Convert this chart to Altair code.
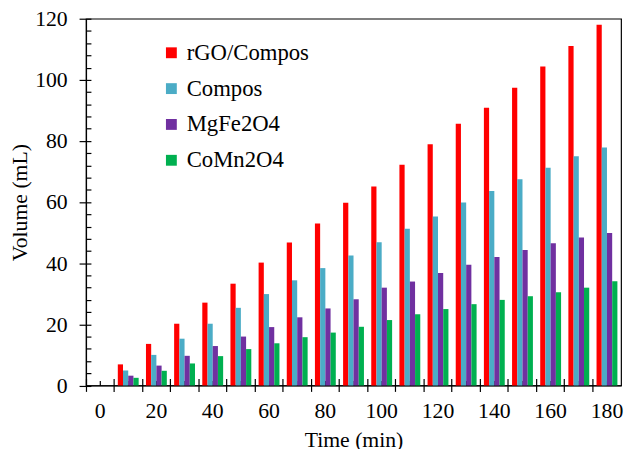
import altair as alt
import pandas as pd

times = [0, 10, 20, 30, 40, 50, 60, 70, 80, 90, 100, 110, 120, 130, 140, 150, 160, 170, 180]
series_names = ["rGO/Compos", "Compos", "MgFe2O4", "CoMn2O4"]
rgo = [0, 6.9, 13.6, 20.2, 27.1, 33.3, 40.2, 46.8, 53.0, 59.8, 65.1, 72.2, 78.9, 85.6, 90.9, 97.4, 104.4, 111.1, 118.0]
compos = [0, 4.9, 10.0, 15.3, 20.2, 25.4, 29.9, 34.4, 38.4, 42.5, 46.9, 51.3, 55.3, 59.9, 63.6, 67.5, 71.2, 75.0, 77.9]
mgfe = [0, 3.2, 6.5, 9.7, 12.9, 16.0, 19.1, 22.3, 25.2, 28.2, 32.0, 34.0, 36.8, 39.5, 42.0, 44.3, 46.5, 48.4, 49.9]
comn = [0, 2.5, 4.8, 7.2, 9.6, 11.9, 13.8, 15.8, 17.3, 19.2, 21.4, 23.3, 25.0, 26.6, 28.0, 29.2, 30.5, 32.0, 34.1]
colors = ["#FF0000", "#4BACC6", "#7030A0", "#00B050"]
y_ticks = [0, 20, 40, 60, 80, 100, 120]
y_minor = list(range(0, 121, 4))

rows = []
for name, vals in zip(series_names, [rgo, compos, mgfe, comn]):
    for t, v in zip(times, vals):
        rows.append({"Time": t, "Series": name, "Volume": v})
df = pd.DataFrame(rows)

FONT = "Liberation Serif"
W, H = 542, 371.5

x_main = alt.X(
    "Time:O",
    sort=times,
    scale=alt.Scale(paddingInner=0, paddingOuter=0),
    axis=alt.Axis(
        title="Time (min)", labelAngle=0, bandPosition=0,
        tickSize=6, labelPadding=9, titlePadding=9,
        labelExpr="datum.value % 20 === 0 ? datum.label : ''",
        grid=False, domainColor="black", tickColor="black", domainWidth=1.2, tickWidth=1.2,
    ),
)
y_main = alt.Y(
    "Volume:Q",
    scale=alt.Scale(domain=[0, 120], nice=False),
    axis=alt.Axis(
        title="Volume (mL)", values=y_ticks, tickSize=7, labelPadding=12, titlePadding=3,
        grid=False, domainColor="black", tickColor="black", domainWidth=1.2, tickWidth=1.2,
    ),
)

bars = alt.Chart(df).mark_bar().encode(
    x=x_main,
    xOffset=alt.XOffset("Series:N", sort=series_names,
                        scale=alt.Scale(paddingInner=0, paddingOuter=0.7)),
    y=y_main,
    color=alt.Color(
        "Series:N", sort=series_names,
        scale=alt.Scale(domain=series_names, range=colors),
        legend=alt.Legend(
            orient="none", legendX=75, legendY=23, title=None, symbolType="square",
            symbolSize=121, symbolStrokeWidth=0, labelFontSize=23, labelFont=FONT,
            labelColor="black", rowPadding=12.3, labelOffset=4, padding=0,
        ),
    ),
)

# inner parts of the tick marks (x: major at category edges, y: minor every 4)
ghost = alt.Chart(df).mark_bar(opacity=0).encode(
    x=alt.X(
        "Time:O", sort=times,
        axis=alt.Axis(orient="top", offset=-H, bandPosition=0, tickSize=7, labels=False,
                      domain=False, title=None, grid=False, tickColor="black", tickWidth=1.2),
    ),
    y=alt.Y(
        "Volume:Q",
        axis=alt.Axis(orient="right", offset=-W, values=y_minor, tickSize=5, labels=False,
                      domain=False, title=None, grid=False, tickColor="black", tickWidth=1.2),
    ),
)

# minor x ticks at category centres, inside only
ghost2 = alt.Chart(df).mark_bar(opacity=0).encode(
    x=alt.X(
        "Time:O", sort=times,
        axis=alt.Axis(orient="top", offset=-H, bandPosition=0.5, tickSize=5, labels=False,
                      domain=False, title=None, grid=False, tickColor="black", tickWidth=1.2),
    ),
    y=alt.Y("Volume:Q", axis=None),
)

chart = alt.layer(bars, ghost, ghost2).resolve_axis(x="independent", y="independent").properties(
    width=W, height=H,
    autosize=alt.AutoSizeParams(type="none"),
    padding={"left": 79, "top": 8, "right": 4, "bottom": 61},
).configure_view(stroke="black", strokeWidth=1.2).configure_axis(
    labelFont=FONT, titleFont=FONT, labelFontSize=22, titleFontSize=22,
    titleFontWeight="normal", labelColor="black", titleColor="black",
)

chart.save("out.html", embed_options={"renderer": "svg", "actions": False})
